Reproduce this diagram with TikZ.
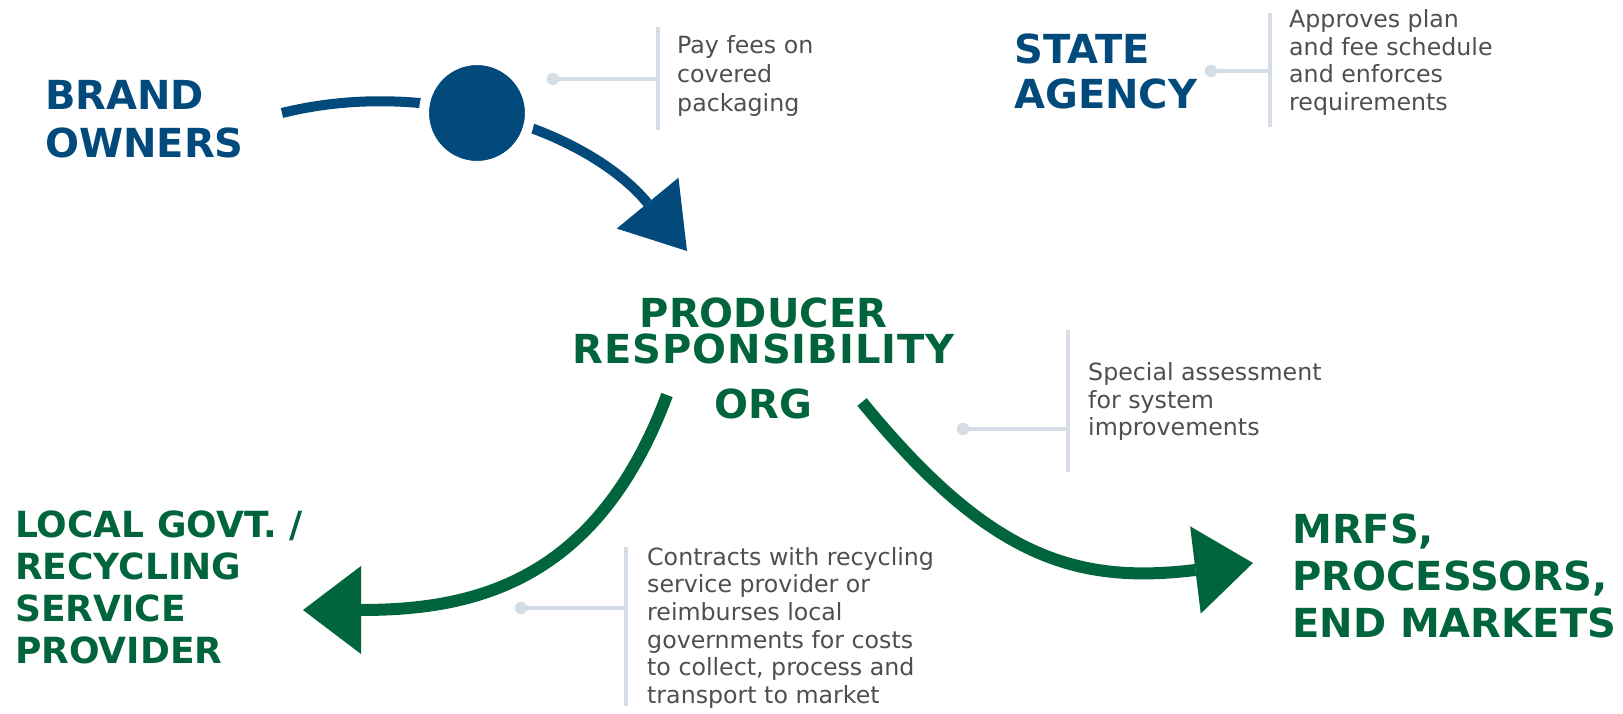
\documentclass[tikz,border=0pt]{standalone}
\usepackage{fontspec}
\setmainfont{DejaVu Sans}
\usetikzlibrary{arrows.meta}
\definecolor{brandblue}{HTML}{034A7C}
\definecolor{prgreen}{HTML}{00643C}
\definecolor{calgray}{HTML}{D5DDE7}
\definecolor{txtgray}{HTML}{4D4F53}
\begin{document}
\begin{tikzpicture}[x=1pt,y=-1pt,
  titlebase/.style={align=left, anchor=north west, inner sep=0pt},
  titleblue/.style={titlebase, text=brandblue},
  titlegreen/.style={titlebase, text=prgreen},
  calltext/.style={align=left, anchor=north west, inner sep=0pt, text=txtgray},
  calline/.style={draw=calgray, line width=3.3pt},
  caldot/.style={circle, fill=calgray, inner sep=0pt, minimum size=12.5pt},
  bluearrow/.style={draw=brandblue, line width=10pt, -{Triangle[length=62pt,width=80pt,line width=0pt]}},
  greenarrow/.style={draw=prgreen, line width=12pt, -{Triangle[length=58pt,width=88pt,line width=0pt]}},
  hubstyle/.style={circle, fill=brandblue, draw=white, line width=10pt, minimum size=106pt, inner sep=0pt}
]
\useasboundingbox[fill=white] (0,0) rectangle (1623,714);

% titles
\node[titleblue, font=\fontsize{40}{48}\selectfont\bfseries] (brand) at (45,79.8) {BRAND\\OWNERS};
\node[titleblue, font=\fontsize{40}{45}\selectfont\bfseries] (state) at (1014,34.1) {STATE\\AGENCY};
\node[titlegreen, align=center, anchor=north, font=\fontsize{40}{36}\selectfont\bfseries] (pro) at (763.5,297.8) {PRODUCER\\{\addfontfeature{LetterSpace=2.5}RESPONSIBILITY}\\[19pt]ORG};
\node[titlegreen, font=\fontsize{36}{42}\selectfont\bfseries] (local) at (15,510.5) {LOCAL GOVT. /\\RECYCLING\\SERVICE\\PROVIDER};
\node[titlegreen, font=\fontsize{40}{47}\selectfont\bfseries] (mrfs) at (1292,513.5) {MRFS,\\PROCESSORS,\\END MARKETS};

% blue arrow with hub
\coordinate (bS) at (282,113);
\coordinate (bT) at (687,251);
\draw[bluearrow] (bS) .. controls (431.5,76) and (589,132) .. (bT);
\node[hubstyle] (hub) at (477,113) {};

% green arrows
\coordinate (gLs) at (667,395);
\coordinate (gLt) at (303,610);
\draw[greenarrow] (gLs) .. controls (597,583) and (473,610) .. (gLt);
\coordinate (gRs) at (862,402);
\coordinate (gRt) at (1253,563);
\draw[greenarrow] (gRs) .. controls (988.6,556.8) and (1075,584.6) .. (gRt);

% callout 1: pay fees
\coordinate (v1t) at (658,27);
\coordinate (v1b) at (658,130);
\coordinate (v1m) at (658,79);
\node[caldot] (d1) at (553,79) {};
\draw[calline] (v1t) -- (v1b);
\draw[calline] (d1.center) -- (v1m);
\node[calltext, font=\fontsize{23.7}{29}\selectfont] (t1) at (677,35.3) {Pay fees on\\covered\\packaging};

% callout 2: state agency
\coordinate (v2t) at (1270,13);
\coordinate (v2b) at (1270,127);
\coordinate (v2m) at (1270,71);
\node[caldot] (d2) at (1211,71) {};
\draw[calline] (v2t) -- (v2b);
\draw[calline] (d2.center) -- (v2m);
\node[calltext, font=\fontsize{23.7}{27.7}\selectfont] (t2) at (1289,9.3) {Approves plan\\and fee schedule\\and enforces\\requirements};

% callout 3: special assessment
\coordinate (v3t) at (1068,330);
\coordinate (v3b) at (1068,472);
\coordinate (v3m) at (1068,429);
\node[caldot] (d3) at (963,429) {};
\draw[calline] (v3t) -- (v3b);
\draw[calline] (d3.center) -- (v3m);
\node[calltext, font=\fontsize{23.7}{27.3}\selectfont] (t3) at (1088,362.7) {Special assessment\\for system\\improvements};

% callout 4: contracts
\coordinate (v4t) at (626,547);
\coordinate (v4b) at (626,706);
\coordinate (v4m) at (626,608);
\node[caldot] (d4) at (521,608) {};
\draw[calline] (v4t) -- (v4b);
\draw[calline] (d4.center) -- (v4m);
\node[calltext, font=\fontsize{23.7}{27.6}\selectfont] (t4) at (647,547) {Contracts with recycling\\service provider or\\reimburses local\\governments for costs\\to collect, process and\\transport to market};
\end{tikzpicture}
\end{document}
